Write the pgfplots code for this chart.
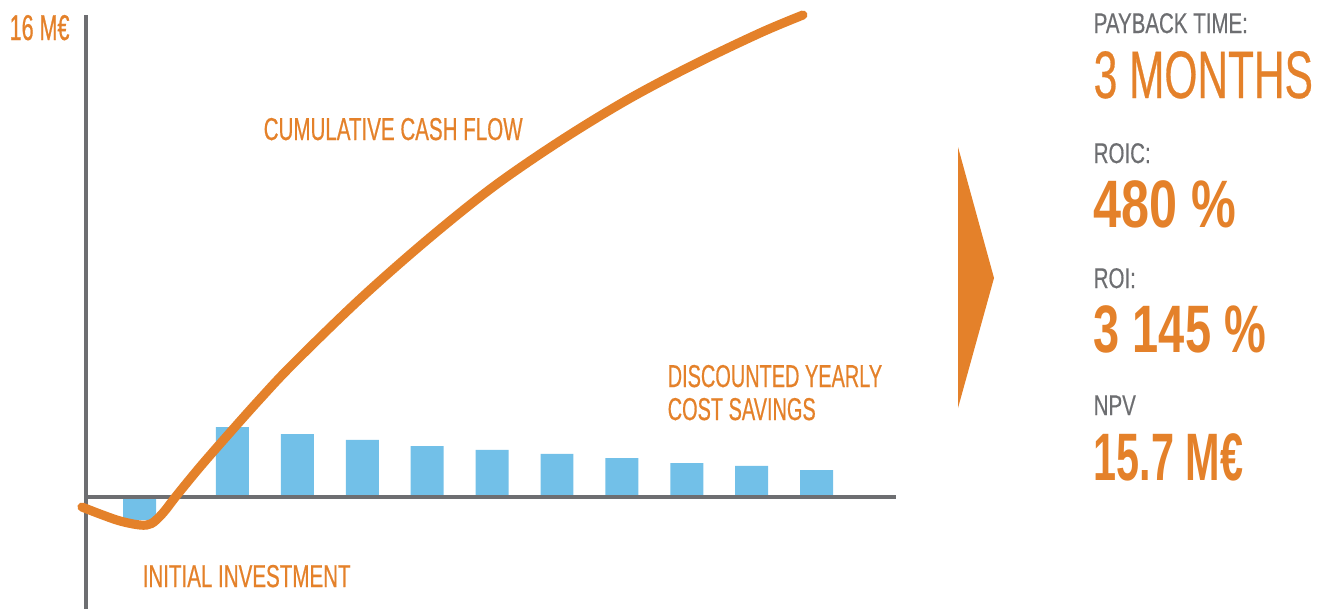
\documentclass[border=0pt]{standalone}
\usepackage{pgfplots}
\pgfplotsset{compat=1.18}
\usepackage{fontspec}
\setmainfont{Liberation Sans}[FakeStretch=0.65]
\definecolor{cforange}{HTML}{E4812A}
\definecolor{barblue}{HTML}{72C0E8}
\definecolor{axgray}{HTML}{6D6E71}
\begin{document}
\begin{tikzpicture}
\begin{axis}[
  scale only axis, width=13.22cm, height=6.09cm,
  xmin=-2.582, xmax=17.787, ymin=-3.870, ymax=16.986,
  hide axis, clip=false,
]
% discounted yearly cost savings (M€), year 0 = initial investment
\addplot[ybar, bar width=0.508, fill=barblue, draw=none] coordinates {
  (-0.43,-0.82) (1,2.36) (2,2.12) (3,1.92) (4,1.71) (5,1.58)
  (6,1.44) (7,1.30) (8,1.13) (9,1.03) (10,0.89)};
% axes
\draw[axgray, line width=1.2pt] (rel axis cs:0.06505,0) -- (rel axis cs:0.06505,0.97537);
\draw[axgray, line width=1.25pt] (rel axis cs:0.06505,0.18391) -- (rel axis cs:0.67776,0.18391);
% cumulative cash flow
\addplot[cforange, line width=2.6pt, line cap=round, smooth, tension=0.55] coordinates {
  (-1.319,-0.377) (-1.042,-0.616) (-0.733,-0.856) (-0.425,-0.993) (-0.250,-0.945)
  (-0.071,-0.582) (0.145,0.034) (0.499,0.993) (0.915,2.055) (1.424,3.322)
  (1.932,4.521) (2.965,6.747) (3.997,8.767) (5.014,10.582) (6.046,12.158)
  (7.079,13.562) (8.096,14.760) (9.128,15.856) (9.790,16.473)};
% arrow
\fill[cforange] (rel axis cs:0.72466,0.75862) -- (rel axis cs:0.75189,0.54351) -- (rel axis cs:0.72466,0.33005) -- cycle;
% labels
\begin{scope}[every node/.style={inner sep=0pt, anchor=base west}]
\node[text=cforange, font=\fontsize{10.2}{11}\selectfont\addfontfeature{FakeStretch=0.60,FakeBold=0.6}] at (rel axis cs:0.00681,0.93432) {16 M€};
\node[text=cforange, font=\fontsize{9.0}{11}\selectfont\addfontfeature{FakeBold=0.5}] at (rel axis cs:0.19894,0.77011) {CUMULATIVE CASH FLOW};
\node[text=cforange, font=\fontsize{9.0}{11}\selectfont\addfontfeature{FakeBold=0.5}] at (rel axis cs:0.10741,0.03612) {INITIAL INVESTMENT};
\node[text=cforange, font=\fontsize{9.0}{11}\selectfont\addfontfeature{FakeStretch=0.63,FakeBold=0.5}] at (rel axis cs:0.50454,0.36453) {DISCOUNTED YEARLY};
\node[text=cforange, font=\fontsize{9.0}{11}\selectfont\addfontfeature{FakeStretch=0.63,FakeBold=0.5}] at (rel axis cs:0.50454,0.31034) {COST SAVINGS};
\node[text=axgray, font=\fontsize{8.1}{10}\selectfont\addfontfeature{FakeStretch=0.72,FakeBold=0.4}] at (rel axis cs:0.82678,0.94581) {PAYBACK TIME:};
\node[text=cforange, font=\fontsize{19.1}{22}\selectfont\addfontfeature{FakeStretch=0.632,FakeBold=0.4}] at (rel axis cs:0.82678,0.83908) {3 MONTHS};
\node[text=axgray, font=\fontsize{8.1}{10}\selectfont\addfontfeature{FakeStretch=0.72,FakeBold=0.4}] at (rel axis cs:0.82678,0.73235) {ROIC:};
\node[text=cforange, font=\bfseries\fontsize{19.1}{22}\selectfont\addfontfeature{FakeStretch=0.75}] at (rel axis cs:0.82678,0.62726) {480 \%};
\node[text=axgray, font=\fontsize{8.1}{10}\selectfont\addfontfeature{FakeStretch=0.72,FakeBold=0.4}] at (rel axis cs:0.82678,0.52709) {ROI:};
\node[text=cforange, font=\bfseries\fontsize{19.1}{22}\selectfont\addfontfeature{FakeStretch=0.70}] at (rel axis cs:0.82678,0.42200) {3 145 \%};
\node[text=axgray, font=\fontsize{8.1}{10}\selectfont\addfontfeature{FakeStretch=0.72,FakeBold=0.4}] at (rel axis cs:0.82678,0.31856) {NPV};
\node[text=cforange, font=\bfseries\fontsize{19.1}{22}\selectfont\addfontfeature{FakeStretch=0.617}] at (rel axis cs:0.82678,0.21182) {15.7 M€};
\end{scope}
\path (rel axis cs:0,0) (rel axis cs:1,1);
\end{axis}
\end{tikzpicture}
\end{document}
